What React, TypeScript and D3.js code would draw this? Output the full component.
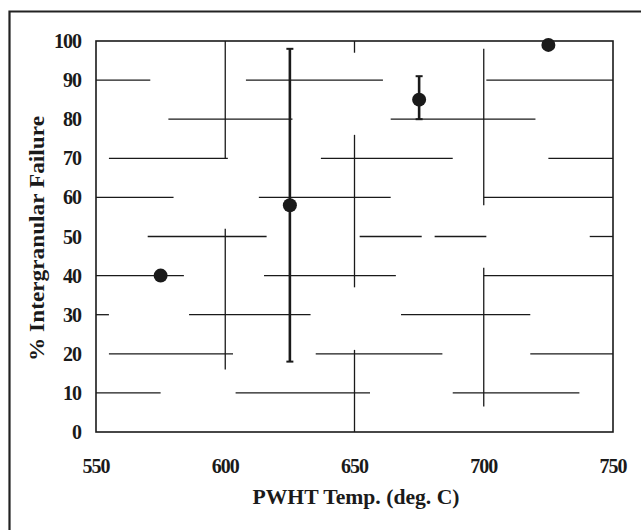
import React from 'react';
import * as d3 from 'd3';

// measured data: PWHT temperature vs % intergranular failure
const temps = [575, 625, 675, 725];
const failure = [40, 58, 85, 99];
const errLow = [null, 18, 80, null];
const errHigh = [null, 98, 91, null];

const xTicks = [550, 600, 650, 700, 750];
const yTicks = [0, 10, 20, 30, 40, 50, 60, 70, 80, 90, 100];

// broken grid lines of the scanned figure: [level, from, to] in data units
const gridH = [
  [90, 550, 571], [90, 608, 661], [90, 701, 750],
  [80, 578, 626], [80, 664, 720],
  [70, 555, 601], [70, 637, 688], [70, 725, 750],
  [60, 550, 580], [60, 613, 664], [60, 700, 750],
  [50, 570, 616], [50, 652, 676], [50, 681, 701], [50, 741, 750],
  [40, 550, 584], [40, 615, 666], [40, 700, 750],
  [30, 550, 555], [30, 586, 633], [30, 668, 718],
  [20, 555, 603], [20, 635, 684], [20, 718, 750],
  [10, 550, 575], [10, 604, 656], [10, 688, 737],
];
const gridV = [
  [600, 70, 100], [600, 16, 52],
  [650, 97, 100], [650, 37, 76], [650, 0, 21],
  [700, 58, 98], [700, 6.5, 42],
];

const W = 641;
const H = 530;
const m = { left: 96, right: 613, top: 41, bottom: 432 };
const font = '"Liberation Serif", "Times New Roman", serif';
const ink = '#1a1a1a';

const App = () => {
  const x = d3.scaleLinear().domain([550, 750]).range([m.left, m.right]);
  const y = d3.scaleLinear().domain([0, 100]).range([m.bottom, m.top]);

  return (
    <svg width={W} height={H} style={{ position: 'fixed', left: 0, top: 0, background: '#fff' }}>
      {/* outer frame (cropped on the right and bottom) */}
      <path d={`M9.5,${H} V11.5 H${W}`} fill="none" stroke="#222" strokeWidth={2.2} />

      {/* plot box */}
      <rect x={x(550)} y={y(100)} width={x(750) - x(550)} height={y(0) - y(100)}
        fill="none" stroke={ink} strokeWidth={1.6} />

      {gridH.map(([v, a, b], i) => (
        <line key={'h' + i} x1={x(a)} x2={x(b)} y1={y(v)} y2={y(v)} stroke={ink} strokeWidth={1.3} />
      ))}
      {gridV.map(([v, a, b], i) => (
        <line key={'v' + i} x1={x(v)} x2={x(v)} y1={y(a)} y2={y(b)} stroke={ink} strokeWidth={1.3} />
      ))}

      {/* error bars */}
      {temps.map((t, i) => errLow[i] == null ? null : (
        <g key={'e' + i} stroke={ink}>
          <line x1={x(t)} x2={x(t)} y1={y(errLow[i])} y2={y(errHigh[i])} strokeWidth={2.6} />
          <line x1={x(t) - 3.5} x2={x(t) + 3.5} y1={y(errHigh[i])} y2={y(errHigh[i])} strokeWidth={2} />
          <line x1={x(t) - 3.5} x2={x(t) + 3.5} y1={y(errLow[i])} y2={y(errLow[i])} strokeWidth={2} />
        </g>
      ))}

      {/* points */}
      {temps.map((t, i) => (
        <circle key={'p' + i} cx={x(t)} cy={y(failure[i])} r={7} fill={ink} />
      ))}

      {/* tick labels */}
      <g fontFamily={font} fontWeight="bold" fontSize={20} fill={ink}>
        {yTicks.map((v) => (
          <text key={'yt' + v} x={81} y={y(v)} dy="0.35em" textAnchor="end" letterSpacing={-1}>{v}</text>
        ))}
        {xTicks.map((v) => (
          <text key={'xt' + v} x={x(v)} y={466} dy="0.35em" textAnchor="middle" letterSpacing={-1}>{v}</text>
        ))}
      </g>

      {/* axis titles */}
      <text x={356} y={497} dy="0.35em" textAnchor="middle" fontFamily={font} fontWeight="bold"
        fontSize={20} fill={ink} textLength={207} lengthAdjust="spacingAndGlyphs">PWHT Temp. (deg. C)</text>
      <text transform={`translate(37,${(m.top + m.bottom) / 2 + 2}) rotate(-90)`} dy="0.35em" textAnchor="middle"
        fontFamily={font} fontWeight="bold" fontSize={20} fill={ink}
        textLength={245} lengthAdjust="spacingAndGlyphs">% Intergranular Failure</text>
    </svg>
  );
};

export default App;
